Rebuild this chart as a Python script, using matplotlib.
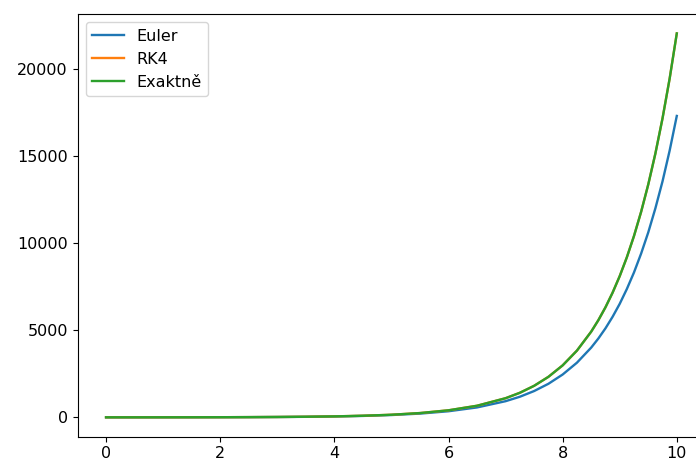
import matplotlib
matplotlib.use("Agg")
import matplotlib.pyplot as plt

# time grid (denser near the end, where the curves bend hardest)
t = [0, 0.5, 1, 1.5, 2, 2.5, 3, 3.5, 4, 4.5, 5, 5.5, 6, 6.5, 7,
     7.25, 7.5, 7.75, 8, 8.25, 8.5, 8.625, 8.75, 8.875, 9, 9.125, 9.25,
     9.375, 9.5, 9.625, 9.75, 9.875, 10]

y_euler = [1, 1.6, 2.7, 4.3, 7.0, 11.5, 18.7, 30, 50, 81, 132, 214, 349, 568, 926,
           1181, 1508, 1923, 2456, 3134, 4000, 4520, 5105, 5768, 6513, 7363, 8313,
           9396, 10610, 11993, 13540, 15306, 17292]
y_rk4 = [1, 1.6, 2.7, 4.5, 7.4, 12, 20, 33, 55, 90, 148, 245, 403, 665, 1097,
         1408, 1808, 2322, 2981, 3827, 4915, 5570, 6311, 7152, 8103, 9182, 10405,
         11790, 13360, 15138, 17154, 19438, 22026]
y_exact = [1, 1.6, 2.7, 4.5, 7.4, 12, 20, 33, 55, 90, 148, 245, 403, 665, 1097,
           1408, 1808, 2322, 2981, 3827, 4915, 5570, 6311, 7152, 8103, 9182, 10405,
           11790, 13360, 15138, 17154, 19438, 22026]

plt.rcParams["font.size"] = 11.5

fig = plt.figure(figsize=(6.96, 4.59), dpi=100)
ax = fig.add_axes([0.1114, 0.049, 0.902, 0.920])

ax.plot(t, y_euler, label="Euler", lw=1.7)
ax.plot(t, y_rk4, label="RK4", lw=1.7)
ax.plot(t, y_exact, label="Exaktně", lw=1.7)
ax.legend(loc="upper left")

fig.savefig("out.png", dpi=100)
